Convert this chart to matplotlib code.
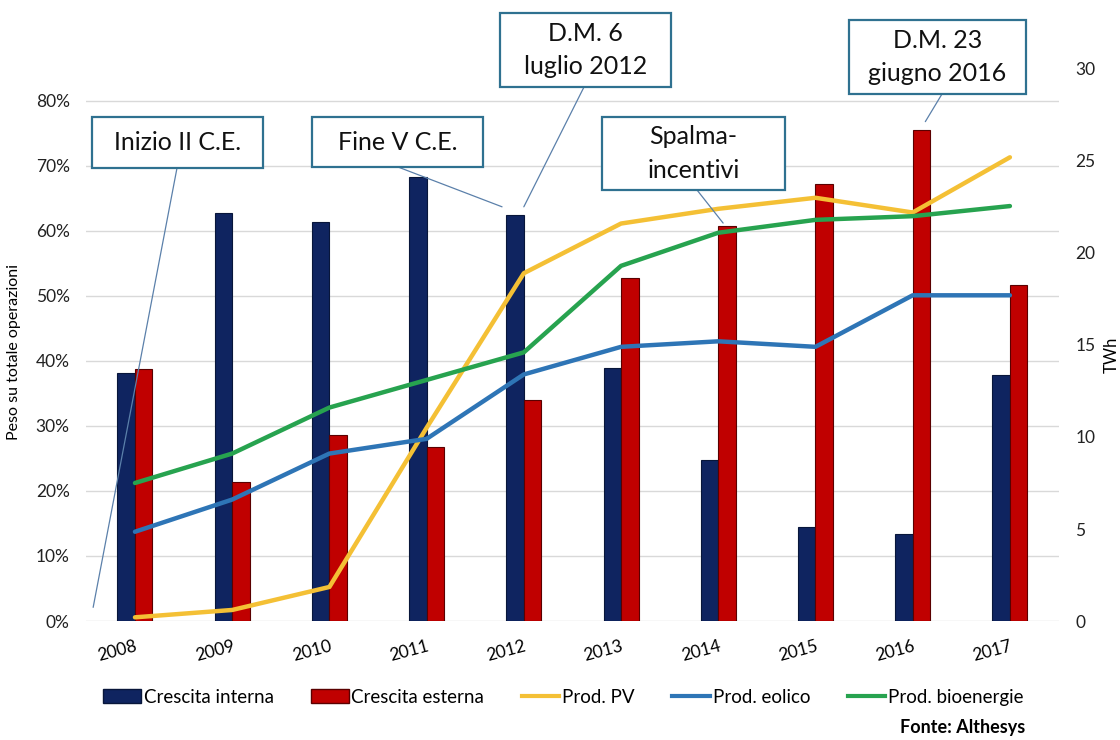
#Import required libraries
import matplotlib.pyplot as plt
from matplotlib.patches import Rectangle, Patch, ConnectionPatch
from matplotlib.lines import Line2D
from matplotlib.ticker import PercentFormatter

plt.rcParams['font.family'] = ['Lato', 'DejaVu Sans']

#data: share of operations (left axis) and production in TWh (right axis)
anni = ['2008', '2009', '2010', '2011', '2012', '2013', '2014', '2015', '2016', '2017']
crescita_interna = [0.382, 0.628, 0.614, 0.683, 0.624, 0.389, 0.248, 0.145, 0.134, 0.378]
crescita_esterna = [0.388, 0.214, 0.286, 0.268, 0.340, 0.528, 0.608, 0.672, 0.755, 0.517]
prod_pv = [0.2, 0.6, 1.85, 10.5, 18.9, 21.6, 22.4, 23.0, 22.2, 25.2]
prod_eolico = [4.85, 6.6, 9.1, 9.9, 13.4, 14.9, 15.2, 14.9, 17.7, 17.7]
prod_bio = [7.5, 9.1, 11.6, 13.1, 14.6, 19.3, 21.1, 21.8, 22.0, 22.55]

#colours
blu = '#0f2460'
rosso = '#c00000'
giallo = '#f4c035'
azzurro = '#2e75b6'
verde = '#27a34f'
bordo = '#2f7190'
filo = '#5b80aa'

fig = plt.figure(figsize=(11.2, 7.4), dpi=100)
ax = fig.add_axes([0.0771, 0.1608, 0.868, 0.746])
ax2 = ax.twinx()

x = list(range(len(anni)))
w = 0.18
ax.bar([i - w / 2 for i in x], crescita_interna, w, color=blu, edgecolor='#08163a', linewidth=0.8, zorder=2)
ax.bar([i + w / 2 for i in x], crescita_esterna, w, color=rosso, edgecolor='#5a0000', linewidth=0.8, zorder=2)

ax2.plot(x, prod_pv, color=giallo, lw=3.2, solid_capstyle='round')
ax2.plot(x, prod_eolico, color=azzurro, lw=3.2, solid_capstyle='round')
ax2.plot(x, prod_bio, color=verde, lw=3.2, solid_capstyle='round')

ax.set_xlim(-0.5, len(anni) - 0.5)
ax.set_ylim(0, 0.849)
ax.set_yticks([i / 10 for i in range(9)])
ax.yaxis.set_major_formatter(PercentFormatter(1.0, decimals=0))
ax.grid(axis='y', color='#d9d9d9', lw=1, zorder=0)
ax.set_axisbelow(True)
ax2.set_ylim(0, 30)
ax2.set_yticks(range(0, 31, 5))

for a in (ax, ax2):
    for s in a.spines.values():
        s.set_visible(False)
ax.tick_params(axis='y', length=0, pad=12, labelsize=12.5, labelcolor='#222222')
ax2.tick_params(axis='y', length=0, pad=12, labelsize=12.5, labelcolor='#222222')
ax.set_xticks(x)
ax.set_xticklabels(anni, rotation=15, ha='right', rotation_mode='anchor', fontsize=12.5)
ax.tick_params(axis='x', length=0, pad=12)

fig.text(0.0125, 0.524, 'Peso su totale operazioni', rotation=90, ha='center', va='center', fontsize=11.5)
fig.text(0.993, 0.52, 'TWh', rotation=90, ha='center', va='center', fontsize=12)

#callout boxes (pixel layout: left, top, right, bottom) with their leader lines
def px(xp, yp):
    return xp / 1120, 1 - yp / 740

note = [
    ('Inizio II C.E.', (92, 117, 263, 168), (177, 168), (-0.43, 0.021)),
    ('Fine V C.E.', (312, 117, 483, 167), (398, 167), (3.776, 0.637)),
    ('D.M. 6\nluglio 2012', (500, 13, 671, 87), (584, 87), (4.0, 0.637)),
    ('Spalma-\nincentivi', (602, 117, 785, 190), (697, 190), (6.05, 0.612)),
    ('D.M. 23\ngiugno 2016', (849, 20, 1026, 94), (942, 94), (8.13, 0.768)),
]
for testo, (l, t, r, b), start, end in note:
    con = ConnectionPatch(xyA=px(*start), coordsA=fig.transFigure,
                          xyB=end, coordsB=ax.transData,
                          color=filo, lw=0.9, zorder=3)
    fig.add_artist(con)
    x0, y0 = px(l, b)
    x1, y1 = px(r, t)
    fig.add_artist(Rectangle((x0, y0), x1 - x0, y1 - y0, transform=fig.transFigure,
                             facecolor='white', edgecolor=bordo, lw=1.6, zorder=4))
    fig.text((x0 + x1) / 2, (y0 + y1) / 2, testo, ha='center', va='center',
             fontsize=18, linespacing=1.55, color='#111111', zorder=5)

handles = [Patch(facecolor=blu, edgecolor='#08163a'),
           Patch(facecolor=rosso, edgecolor='#5a0000'),
           Line2D([], [], color=giallo, lw=3),
           Line2D([], [], color=azzurro, lw=3),
           Line2D([], [], color=verde, lw=3)]
labels = ['Crescita interna', 'Crescita esterna', 'Prod. PV', 'Prod. eolico', 'Prod. bioenergie']
fig.legend(handles, labels, loc='center', bbox_to_anchor=(0.503, 0.058), ncol=5,
           frameon=False, fontsize=13.5, handlelength=2.0, handleheight=0.75,
           handletextpad=0.15, columnspacing=2.0)

fig.text(0.915, 0.017, 'Fonte: Althesys', ha='right', va='center', fontsize=13, fontweight='bold')

fig.savefig('out.png', dpi=100)
